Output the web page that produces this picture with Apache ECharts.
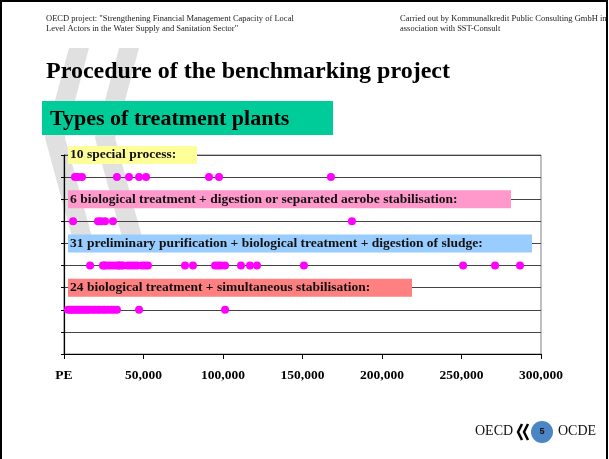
<!DOCTYPE html>
<html>
<head>
<meta charset="utf-8">
<script src="https://cdn.jsdelivr.net/npm/echarts@6/dist/echarts.min.js"></script>
<style>html,body{margin:0;padding:0;background:#fff}#c{width:609px;height:459px}</style>
</head>
<body>
<div id="c"></div>
<script>
// ---- data ----
const xTicks = [0, 50000, 100000, 150000, 200000, 250000, 300000];
const rowLabels = [
  '10 special process:',
  '6 biological treatment + digestion or separated aerobe stabilisation:',
  '31 preliminary purification + biological treatment + digestion of sludge:',
  '24 biological treatment + simultaneous stabilisation:'
];
const labelRows = [9, 7, 5, 3];
const dotRows = [8, 6, 4, 2];
const specialProcess = [6900, 8800, 11300, 33300, 40900, 47200, 51600, 91200, 97500, 167900];
const bioDigestion = [5700, 21400, 23300, 25800, 30800, 181100];
const prelimBioDigestion = [16400, 24500, 25200, 26400, 28300, 30200, 32100, 34000, 34600, 35800, 37100,
  40200, 42100, 44000, 45900, 49100, 50900, 52800, 76100, 81100, 95000, 96900, 98700, 101300,
  111300, 117000, 121400, 150900, 251000, 271100, 286800];
const bioSimultaneous = [2500, 3800, 5000, 6300, 7500, 8800, 10100, 11300, 12600, 13800, 15100, 16400,
  18200, 19500, 21400, 22600, 24500, 25800, 27700, 29600, 31400, 33300, 47200, 101300];

// ---- styles ----
const labelColors = ['#FFFF99', '#FF99CC', '#99CCFF', '#FF8080'];
const labelBoxWidths = [127, 441, 462, 342];
const serif = '"Liberation Serif", "Times New Roman", serif';

const groups = [specialProcess, bioDigestion, prelimBioDigestion, bioSimultaneous];

const chart = echarts.init(document.getElementById('c'), null, {renderer: 'canvas'});

const dotSeries = groups.map((g, i) => ({
  type: 'scatter',
  data: g.map(v => [v, dotRows[i]]),
  symbolSize: 8,
  itemStyle: {color: '#FF00FF', opacity: 1},
  z: 5,
  silent: true
}));

const labelSeries = {
  type: 'scatter',
  symbolSize: 0,
  z: 4,
  silent: true,
  itemStyle: {opacity: 1},
  data: rowLabels.map((t, i) => ({
    value: [0, labelRows[i]],
    label: {
      show: true,
      position: 'right',
      distance: 4,
      formatter: t,
      backgroundColor: labelColors[i],
      width: labelBoxWidths[i],
      padding: [2, 0, 1, 2],
      lineHeight: 15,
      fontFamily: serif,
      fontWeight: 'bold',
      fontSize: 13.5,
      color: '#111',
      opacity: 1
    }
  }))
};

function chevron(cx, fill) {
  return {
    type: 'polygon',
    z: -5,
    silent: true,
    shape: {points: [[cx - 10, 48], [cx + 10, 48], [cx - 14, 138], [cx + 16, 248], [cx - 4, 248], [cx - 34, 138]]},
    style: {fill: fill}
  };
}

chart.setOption({
  backgroundColor: '#fff',
  animation: false,
  grid: {left: 64, right: 68, top: 155, bottom: 105, show: true, borderColor: '#808080', borderWidth: 1, backgroundColor: 'transparent'},
  xAxis: {
    type: 'value', min: 0, max: 300000, interval: 50000,
    axisLine: {show: true, onZero: false, lineStyle: {color: '#000', width: 1.2}},
    axisTick: {show: true, inside: false, length: 5, lineStyle: {color: '#000'}},
    splitLine: {show: false},
    axisLabel: {
      margin: 15, showMinLabel: true, showMaxLabel: true,
      fontFamily: serif, fontWeight: 'bold', fontSize: 13.5, color: '#000',
      formatter: v => v === 0 ? 'PE' : v.toLocaleString('en-US')
    }
  },
  yAxis: {
    type: 'value', min: 0, max: 9, interval: 1,
    axisLine: {show: true, onZero: false, lineStyle: {color: '#000', width: 1.2}},
    axisTick: {show: true, inside: false, length: 3, lineStyle: {color: '#000'}},
    axisLabel: {show: false},
    splitLine: {show: true, lineStyle: {color: '#444', width: 1}}
  },
  series: [labelSeries, ...dotSeries],
  graphic: [
    chevron(79, '#e0e0e0'),
    chevron(129, '#e0e0e0'),
    {type: 'rect', silent: true, z: 20, shape: {x: 1, y: 1, width: 606, height: 470}, style: {fill: 'none', stroke: '#000', lineWidth: 2}},
    {type: 'text', z: 10, left: 46, top: 14, style: {text: 'OECD project: "Strengthening Financial Management Capacity of Local\nLevel Actors in the Water Supply and Sanitation Sector"', font: '8.5px ' + serif, fill: '#222', lineHeight: 10}},
    {type: 'text', z: 10, left: 400, top: 14, style: {text: 'Carried out by Kommunalkredit Public Consulting GmbH in\nassociation with SST-Consult', font: '8.5px ' + serif, fill: '#222', lineHeight: 10}},
    {type: 'text', z: 10, x: 46, y: 72, style: {text: 'Procedure of the benchmarking project', font: 'bold 24px ' + serif, fill: '#000', verticalAlign: 'middle'}},
    {type: 'rect', z: 10, shape: {x: 42, y: 101, width: 291, height: 34}, style: {fill: '#00CC99'}},
    {type: 'text', z: 11, x: 50, y: 119, style: {text: 'Types of treatment plants', font: 'bold 22px ' + serif, fill: '#000', verticalAlign: 'middle'}},
    {type: 'text', z: 10, left: 475, top: 424, style: {text: 'OECD', font: '14px ' + serif, fill: '#111'}},
    {type: 'polyline', z: 10, shape: {points: [[522, 424], [518, 432], [522, 440]]}, style: {stroke: '#000', lineWidth: 2.5, fill: 'none'}},
    {type: 'polyline', z: 10, shape: {points: [[528, 424], [524, 432], [528, 440]]}, style: {stroke: '#000', lineWidth: 2.5, fill: 'none'}},
    {type: 'circle', z: 10, shape: {cx: 542, cy: 432, r: 11}, style: {fill: '#4A86C5'}},
    {type: 'text', z: 11, x: 542, y: 432, style: {text: '5', font: 'bold 9px "Liberation Sans", Arial, sans-serif', fill: '#111', align: 'center', verticalAlign: 'middle'}},
    {type: 'text', z: 10, left: 558, top: 424, style: {text: 'OCDE', font: '14px ' + serif, fill: '#111'}}
  ]
});
</script>
</body>
</html>
